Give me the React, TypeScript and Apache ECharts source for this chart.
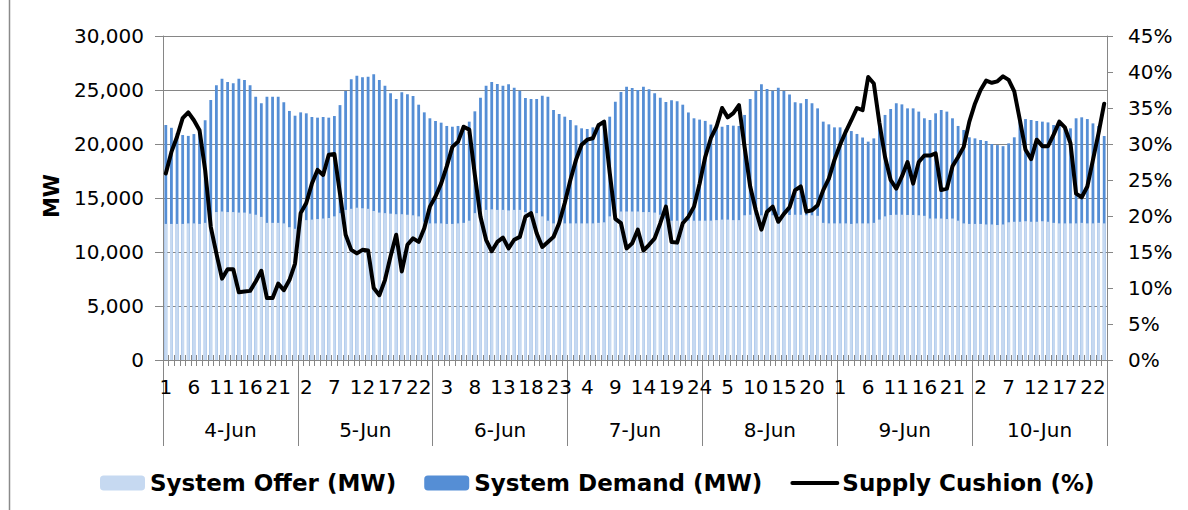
import React, { useEffect, useRef } from 'react';
import * as echarts from 'echarts';

const days = ['4-Jun', '5-Jun', '6-Jun', '7-Jun', '8-Jun', '9-Jun', '10-Jun'];
const hoursOfDay = ['1', '2', '3', '4', '5', '6', '7', '8', '9', '10', '11', '12', '13', '14', '15', '16', '17', '18', '19', '20', '21', '22', '23', '24'];
const hourLabels: string[] = [];
days.forEach(() => hoursOfDay.forEach((h) => hourLabels.push(h)));

const systemOffer = [
  12600, 12600, 12600, 12600, 12650, 12650, 12600, 12700, 13000, 13700, 13750, 13700, 13700, 13650, 13650, 13550, 13450, 13250, 12700, 12700, 12700, 12650, 12300, 12150,
  12900, 12950, 13000, 13050, 13100, 13150, 13300, 13600, 13900, 14000, 14100, 14050, 14000, 13800, 13650, 13600, 13550, 13500, 13500, 13450, 13400, 13300, 12800, 12650,
  12650, 12650, 12600, 12600, 12650, 12700, 12900, 13600, 13900, 13900, 13950, 13900, 13900, 13850, 13900, 13900, 13700, 13700, 13600, 13300, 12900, 12650, 12650, 12650,
  12650, 12650, 12650, 12650, 12650, 12700, 12750, 13300, 13750, 13750, 13750, 13750, 13750, 13700, 13700, 13650, 13450, 13100, 12900, 12900, 12950, 12900, 12900, 12900,
  12900, 12900, 12950, 13000, 13000, 12950, 12950, 13400, 13450, 13450, 13400, 13400, 13400, 13400, 13430, 13430, 13450, 13450, 13400, 13400, 13350, 12700, 12650, 12650,
  12650, 12650, 12600, 12650, 12650, 12650, 12700, 13000, 13300, 13430, 13450, 13450, 13430, 13430, 13400, 13350, 13100, 13100, 13100, 13050, 13100, 12900, 12650, 12600,
  12600, 12600, 12550, 12550, 12500, 12550, 12750, 12800, 12800, 12850, 12800, 12800, 12850, 12800, 12700, 12650, 12650, 12650, 12650, 12700, 12650, 12650, 12700, 12650,
];

const systemDemand = [
  21760, 21500, 21000, 20830, 20750, 20920, 21300, 22200, 24070, 25430, 26050, 25740, 25620, 26050, 25930, 25430, 24380, 23770, 24380, 24380, 24380, 23860, 23060, 22620,
  22930, 22840, 22500, 22440, 22500, 22440, 22590, 23600, 24910, 25990, 26330, 26170, 26230, 26450, 25930, 25400, 24690, 24170, 24800, 24600, 24440, 23640, 22930, 22380,
  22130, 21975, 21670, 21600, 21670, 21750, 22070, 23025, 24290, 25400, 25740, 25560, 25400, 25525, 25215, 24940, 24260, 24170, 24170, 24475, 24380, 23150, 22780, 22530,
  22220, 21730, 21450, 21390, 21540, 21900, 22200, 22530, 23920, 24815, 25310, 25180, 25000, 25310, 25080, 24690, 24280, 23890, 24060, 23960, 23640, 22920, 22380, 22260,
  22140, 21800, 21500, 21600, 21760, 21700, 21670, 22690, 24160, 24940, 25525, 25090, 24930, 25215, 24910, 24590, 23860, 23770, 24170, 23770, 23300, 22070, 21820, 21540,
  21540, 21350, 21200, 20930, 20600, 20220, 20520, 21600, 22690, 23240, 23770, 23670, 23300, 23300, 23000, 22380, 22220, 22840, 23150, 23000, 22380, 21670, 21300, 20620,
  20520, 20370, 20280, 20000, 19900, 19800, 20060, 20620, 22070, 22310, 22220, 22130, 22070, 22000, 21760, 21700, 21600, 21450, 22380, 22470, 22310, 21910, 21670, 20740,
];

const supplyCushion = [
  25.9, 28.9, 31.0, 33.6, 34.4, 33.3, 31.9, 26.4, 18.5, 14.8, 11.3, 12.6, 12.6, 9.4, 9.5, 9.6, 10.9, 12.4, 8.6, 8.6, 10.6, 9.7, 11.1, 13.4,
  20.4, 21.8, 24.5, 26.4, 25.7, 28.5, 28.6, 23.1, 17.4, 15.3, 14.8, 15.3, 15.2, 10.0, 9.0, 11.1, 14.4, 17.4, 12.3, 16.0, 16.9, 16.4, 18.3, 21.3,
  22.7, 24.5, 26.9, 29.6, 30.3, 32.4, 32.0, 25.7, 19.9, 16.7, 15.1, 16.4, 17.0, 15.5, 16.7, 17.1, 19.9, 20.4, 17.6, 15.7, 16.4, 17.1, 19.0, 21.8,
  25.0, 27.8, 29.9, 30.6, 30.8, 32.6, 33.1, 26.0, 19.6, 19.0, 15.5, 16.2, 18.1, 15.2, 16.0, 16.9, 19.0, 21.3, 16.4, 16.3, 19.0, 19.9, 21.3, 24.5,
  28.2, 30.8, 32.4, 35.0, 33.7, 34.3, 35.4, 29.6, 24.1, 20.8, 18.1, 20.6, 21.3, 19.2, 20.3, 21.2, 23.6, 24.1, 20.6, 20.8, 21.5, 23.6, 25.2, 27.8,
  29.9, 31.7, 33.3, 35.0, 34.7, 39.3, 38.4, 32.9, 28.2, 25.0, 23.8, 25.5, 27.5, 24.5, 27.5, 28.4, 28.4, 28.7, 23.6, 23.8, 26.9, 28.2, 29.6, 33.1,
  35.6, 37.5, 38.8, 38.5, 38.7, 39.4, 38.9, 37.3, 33.3, 29.2, 27.9, 30.6, 29.7, 29.7, 31.3, 33.1, 32.3, 30.1, 23.1, 22.6, 24.1, 27.8, 31.5, 35.6,
];

const seriesNames = ['System Offer (MW)', 'System Demand (MW)', 'Supply Cushion (%)'];

const AXIS_COLOR = '#868686';
const FONT = 'DejaVu Sans';

export default function App() {
  const ref = useRef<HTMLDivElement>(null);

  useEffect(() => {
    document.body.style.margin = '0';
    if (!ref.current) return;
    const chart = echarts.init(ref.current, undefined, { renderer: 'svg' });
    chart.setOption({
      animation: false,
      backgroundColor: '#fff',
      grid: { left: 163, right: 81, top: 36, bottom: 150, containLabel: false },
      legend: {
        data: [
          { name: seriesNames[0] },
          { name: seriesNames[1] },
          { name: seriesNames[2], itemStyle: { opacity: 0 }, lineStyle: { width: 4, color: '#000' } },
        ],
        left: 95,
        top: 465,
        itemWidth: 45,
        itemHeight: 15,
        itemGap: 28,
        textStyle: { fontFamily: FONT, fontWeight: 'bold', fontSize: 23, color: '#000', lineHeight: 26 },
      },
      xAxis: [
        {
          type: 'category',
          data: hourLabels,
          position: 'bottom',
          axisLine: { show: true, lineStyle: { color: AXIS_COLOR } },
          axisTick: { show: true, interval: 0, length: 6, lineStyle: { color: AXIS_COLOR } },
          axisLabel: { interval: 4, margin: 17, fontSize: 20, fontFamily: FONT, color: '#000' },
          splitLine: { show: false },
        },
        {
          type: 'category',
          data: hourLabels,
          position: 'bottom',
          axisLine: { show: false },
          axisTick: { show: true, inside: true, interval: 0, length: 5, lineStyle: { color: AXIS_COLOR } },
          axisLabel: { show: false },
          splitLine: { show: false },
        },
        {
          type: 'category',
          data: days,
          position: 'bottom',
          axisLine: { show: false },
          axisTick: { show: true, length: 86, lineStyle: { color: AXIS_COLOR } },
          axisLabel: { margin: 60, fontSize: 20, fontFamily: FONT, color: '#000' },
          splitLine: { show: false },
        },
      ],
      yAxis: [
        {
          type: 'value',
          min: 0,
          max: 30000,
          interval: 5000,
          position: 'left',
          axisLine: { show: true, lineStyle: { color: AXIS_COLOR } },
          axisTick: { show: true, length: 8, lineStyle: { color: AXIS_COLOR } },
          splitLine: { show: true, lineStyle: { color: AXIS_COLOR, width: 1 } },
          axisLabel: {
            margin: 19,
            fontSize: 20,
            fontFamily: FONT,
            color: '#000',
            formatter: (v: number) => v.toLocaleString('en-US'),
          },
        },
        {
          type: 'value',
          min: 0,
          max: 45,
          interval: 5,
          position: 'right',
          axisLine: { show: true, lineStyle: { color: AXIS_COLOR } },
          axisTick: { show: true, length: 6, lineStyle: { color: AXIS_COLOR } },
          splitLine: { show: false },
          axisLabel: { margin: 21, fontSize: 20, fontFamily: FONT, color: '#000', formatter: '{value}%' },
        },
      ],
      graphic: [
        {
          type: 'text',
          x: 52,
          y: 196,
          rotation: Math.PI / 2,
          style: {
            text: 'MW',
            fontFamily: FONT,
            fontWeight: 'bold',
            fontSize: 21,
            fill: '#000',
            align: 'center',
            verticalAlign: 'middle',
            textAlign: 'center',
            textVerticalAlign: 'middle',
          },
        },
        {
          type: 'line',
          shape: { x1: 9.5, y1: 0, x2: 9.5, y2: 510 },
          style: { stroke: '#8a8a8a', lineWidth: 1.5 },
          silent: true,
        },
      ],
      series: [
        {
          name: 'System Demand (MW)',
          type: 'bar',
          xAxisIndex: 0,
          yAxisIndex: 0,
          data: systemDemand,
          barWidth: '50%',
          barGap: '-100%',
          itemStyle: { color: '#558ED5' },
          z: 2,
        },
        {
          name: 'System Offer (MW)',
          type: 'bar',
          xAxisIndex: 0,
          yAxisIndex: 0,
          data: systemOffer,
          barWidth: '50%',
          barGap: '-100%',
          itemStyle: { color: '#C6D9F1' },
          z: 3,
        },
        {
          name: 'Supply Cushion (%)',
          type: 'line',
          xAxisIndex: 0,
          yAxisIndex: 1,
          data: supplyCushion,
          symbol: 'none',
          lineStyle: { color: '#000', width: 4, join: 'round', cap: 'round' },
          itemStyle: { color: '#000' },
          z: 5,
        },
      ],
    });
    return () => chart.dispose();
  }, []);

  return <div ref={ref} style={{ width: 1188, height: 510 }} />;
}
